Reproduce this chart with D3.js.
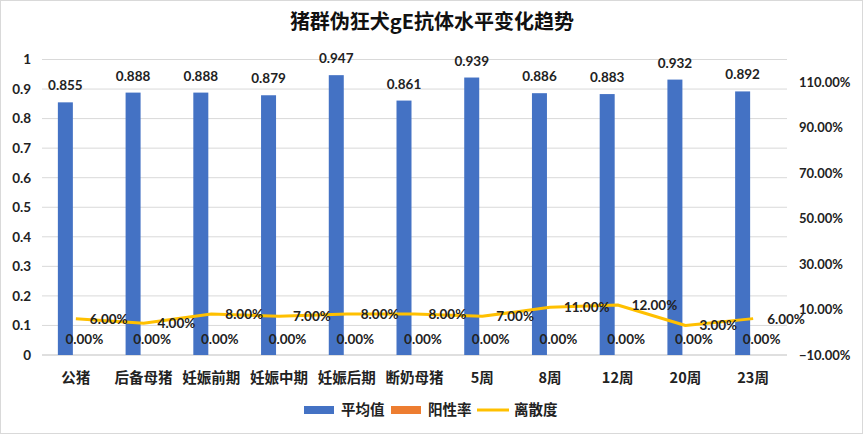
<!DOCTYPE html>
<html>
<head>
<meta charset="utf-8">
<script src="https://cdn.jsdelivr.net/npm/d3@7"></script>
<style>
  body { margin: 0; background: #fff; }
  svg { display: block; }
</style>
</head>
<body>
<svg id="chart" width="864" height="435"></svg>
<script>
const categories = ['公猪', '后备母猪', '妊娠前期', '妊娠中期', '妊娠后期', '断奶母猪', '5周', '8周', '12周', '20周', '23周']
const avgValues = [0.855, 0.888, 0.888, 0.879, 0.947, 0.861, 0.939, 0.886, 0.883, 0.932, 0.892]
const positiveRate = [0, 0, 0, 0, 0, 0, 0, 0, 0, 0, 0]
const dispersion = [0.06, 0.04, 0.08, 0.07, 0.08, 0.08, 0.07, 0.11, 0.12, 0.03, 0.06]
const leftTicks = [0, 0.1, 0.2, 0.3, 0.4, 0.5, 0.6, 0.7, 0.8, 0.9, 1]
const rightTicks = [-0.1, 0.1, 0.3, 0.5, 0.7, 0.9, 1.1]
const legendNames = ['平均值', '阳性率', '离散度']

const blue = '#4472C4', orange = '#ED7D31', yellow = '#FFC000'
const numFont = 'Lato, "Noto Sans", sans-serif'
const cjkFont = '"Noto Sans CJK SC", sans-serif'

let svg = d3.select('#chart')

// outer frame
svg.append('rect')
  .attr('x', 0.5).attr('y', 0.5)
  .attr('width', 862).attr('height', 433)
  .attr('fill', '#fff')
  .attr('stroke', '#d9d9d9')

let plotLeft = 42, plotRight = 787, plotTop = 59.5, plotBottom = 355

let x = d3.scaleBand().domain(categories).range([plotLeft, plotRight])
let yL = d3.scaleLinear().domain([0, 1]).range([plotBottom, plotTop])
let yR = d3.scaleLinear().domain([-0.1, 1.2]).range([plotBottom, plotTop])

// title
svg.append('text')
  .attr('x', 432).attr('y', 29)
  .attr('text-anchor', 'middle')
  .style('font-family', cjkFont)
  .style('font-weight', 700)
  .style('font-size', '20px')
  .attr('fill', '#111')
  .text('猪群伪狂犬gE抗体水平变化趋势')

// gridlines
svg.append('g').selectAll('line')
  .data(leftTicks)
  .enter().append('line')
  .attr('x1', plotLeft).attr('x2', plotRight)
  .attr('y1', d => yL(d)).attr('y2', d => yL(d))
  .attr('stroke', d => d === 0 ? '#bfbfbf' : '#d9d9d9')
  .attr('stroke-width', 1)

// left axis
let yAxisL = d3.axisLeft(yL).tickValues(leftTicks).tickSize(0).tickFormat(d3.format('~g'))
let gl = svg.append('g').attr('transform', `translate(${plotLeft - 8},0)`).call(yAxisL)
gl.select('.domain').remove()
gl.selectAll('text')
  .style('font-family', numFont).style('font-weight', 700).style('font-size', '13.5px')
  .attr('fill', '#222')

// right axis
let yAxisR = d3.axisRight(yR).tickValues(rightTicks).tickSize(0).tickFormat(d3.format('.2%'))
let gr = svg.append('g').attr('transform', `translate(${plotRight + 9},0)`).call(yAxisR)
gr.select('.domain').remove()
gr.selectAll('text')
  .style('font-family', numFont).style('font-weight', 700).style('font-size', '13px')
  .attr('fill', '#222')

// category labels
svg.append('g').selectAll('text')
  .data(categories)
  .enter().append('text')
  .attr('x', d => x(d) + x.bandwidth() / 2)
  .attr('y', 383)
  .attr('text-anchor', 'middle')
  .style('font-family', cjkFont)
  .style('font-weight', 700)
  .style('font-size', '14.5px')
  .attr('fill', '#222')
  .text(d => d)

let bw = 15

// average bars
svg.append('g').selectAll('rect')
  .data(avgValues)
  .enter().append('rect')
  .attr('x', (d, i) => x(categories[i]) + x.bandwidth() / 2 - 18)
  .attr('width', bw)
  .attr('y', d => yL(d))
  .attr('height', d => yL(0) - yL(d))
  .attr('fill', blue)

// positive rate bars (zero height)
svg.append('g').selectAll('rect')
  .data(positiveRate)
  .enter().append('rect')
  .attr('x', (d, i) => x(categories[i]) + x.bandwidth() / 2 + 1)
  .attr('width', bw)
  .attr('y', d => yR(d))
  .attr('height', d => Math.max(0, yR(0) - yR(d)))
  .attr('fill', orange)

svg.append('g').selectAll('text')
  .data(avgValues)
  .enter().append('text')
  .attr('x', (d, i) => x(categories[i]) + x.bandwidth() / 2 - 10.5)
  .attr('y', d => yL(d) - 12)
  .attr('text-anchor', 'middle')
  .style('font-family', numFont).style('font-weight', 700).style('font-size', '13.5px')
  .attr('fill', '#222')
  .text(d => d3.format('.3f')(d))

svg.append('g').selectAll('text')
  .data(positiveRate)
  .enter().append('text')
  .attr('x', (d, i) => x(categories[i]) + x.bandwidth() / 2 + 8.5)
  .attr('y', d => yR(d) + 12)
  .attr('text-anchor', 'middle')
  .style('font-family', numFont).style('font-weight', 700).style('font-size', '13.5px')
  .attr('fill', '#222')
  .text(d => d3.format('.2%')(d))

// dispersion line
let line = d3.line()
  .x((d, i) => x(categories[i]) + x.bandwidth() / 2)
  .y(d => yR(d))

svg.append('path')
  .datum(dispersion)
  .attr('d', line)
  .attr('fill', 'none')
  .attr('stroke', yellow)
  .attr('stroke-width', 3)
  .attr('stroke-linejoin', 'round')

svg.append('g').selectAll('text')
  .data(dispersion)
  .enter().append('text')
  .attr('x', (d, i) => x(categories[i]) + x.bandwidth() / 2 + 14)
  .attr('y', d => yR(d) + 5)
  .style('font-family', numFont).style('font-weight', 700).style('font-size', '13.5px')
  .attr('fill', '#222')
  .text(d => d3.format('.2%')(d))

// legend
let legend = svg.append('g')
let lx = [304, 391, 477]
legend.append('rect').attr('x', lx[0]).attr('y', 406).attr('width', 30).attr('height', 8).attr('fill', blue)
legend.append('rect').attr('x', lx[1]).attr('y', 406).attr('width', 30).attr('height', 8).attr('fill', orange)
legend.append('line').attr('x1', lx[2]).attr('x2', lx[2] + 32).attr('y1', 410).attr('y2', 410)
  .attr('stroke', yellow).attr('stroke-width', 3)
legend.selectAll('text')
  .data(legendNames)
  .enter().append('text')
  .attr('x', (d, i) => lx[i] + 37)
  .attr('y', 415)
  .style('font-family', cjkFont).style('font-weight', 700).style('font-size', '14.5px')
  .attr('fill', '#222')
  .text(d => d)
</script>
</body>
</html>
